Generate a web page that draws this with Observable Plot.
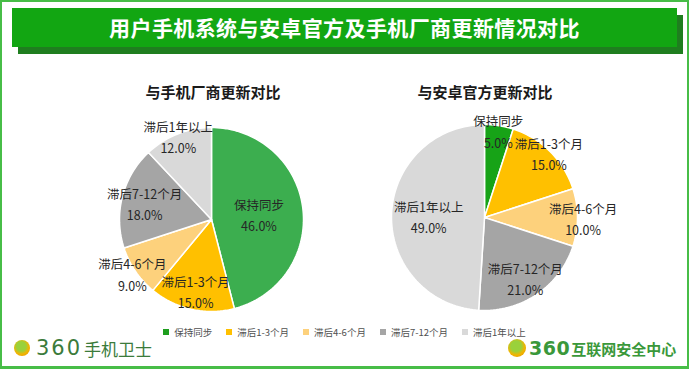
<!DOCTYPE html>
<html><head><meta charset="utf-8">
<script src="https://cdn.jsdelivr.net/npm/d3@7"></script>
<script src="https://cdn.jsdelivr.net/npm/@observablehq/plot@0.6"></script>
<style>
html,body{margin:0;padding:0;background:#fff;}
body{font-family:"Noto Sans CJK SC","Noto Sans",sans-serif;}
#page{position:relative;width:689px;height:369px;overflow:hidden;background:#fff;}
.abs{position:absolute;}
#frame{left:0;top:0;width:689px;height:369px;box-sizing:border-box;border:2px solid #47bd47;border-bottom-width:3px;pointer-events:none;z-index:5;}
#shadow{left:18px;top:15px;width:665px;height:39px;background:#1f7e1f;}
#banner{left:12px;top:8px;width:665px;height:39px;background:#12a612;color:#fff;font-weight:bold;font-size:21px;line-height:39px;text-align:center;letter-spacing:0.4px;}
.ptitle{top:80px;width:240px;text-align:center;font-weight:bold;font-size:15px;color:#1a1a1a;line-height:24px;}
#legend{left:0;top:324px;width:689px;display:flex;justify-content:center;font-size:9.5px;color:#505050;line-height:16px;z-index:3;}
#legend .it{display:flex;align-items:center;margin:0 7px;}
#legend .sw{width:6px;height:6px;margin-right:5px;}
.logo{display:flex;align-items:center;}
.ico{border-radius:50%;background:radial-gradient(circle at 45% 40%,#9ad13b 0 35%,#f2b400 60%,#d88f00 100%);}
</style></head>
<body>
<div id="page">
  <div id="shadow" class="abs"></div>
  <div id="banner" class="abs">用户手机系统与安卓官方及手机厂商更新情况对比</div>
  <div class="abs ptitle" style="left:93px">与手机厂商更新对比</div>
  <div class="abs ptitle" style="left:365px">与安卓官方更新对比</div>
  <div id="leftPie" class="abs"></div>
  <div id="rightPie" class="abs"></div>
  <div id="legend" class="abs"></div>
  <div class="abs logo" style="left:14px;top:337px;height:22px;">
    <div class="ico" style="width:16px;height:16px;"></div>
    <span style="margin-left:6px;font-size:21px;color:#3b7b3b;letter-spacing:2px;font-family:'DejaVu Sans';">360</span>
    <span style="margin-left:2px;font-size:17px;color:#3b7b3b;">手机卫士</span>
  </div>
  <div class="abs logo" style="left:508px;top:337px;height:22px;">
    <div class="ico" style="width:18px;height:18px;"></div>
    <span style="margin-left:3px;font-size:19px;color:#3a983a;font-weight:bold;letter-spacing:0.5px;font-family:'DejaVu Sans';">360</span>
    <span style="margin-left:1px;font-size:15px;color:#3a983a;font-weight:bold;">互联网安全中心</span>
  </div>
  <div id="frame" class="abs"></div>
</div>
<script>
// ---- data ----
const categories = ["保持同步", "滞后1-3个月", "滞后4-6个月", "滞后7-12个月", "滞后1年以上"];
const vendorValues = [46, 15, 9, 18, 12];     // 与手机厂商更新对比
const officialValues = [5, 15, 10, 21, 49];   // 与安卓官方更新对比

// ---- styles / layout ----
const vendorColors = ["#3cae4f", "#ffc000", "#fdd17c", "#a5a5a5", "#d9d9d9"];
const officialColors = ["#17a317", "#ffc000", "#fdd17c", "#a5a5a5", "#d9d9d9"];
const legendColors = ["#1e9e1e", "#ffc000", "#fdd17c", "#a5a5a5", "#d9d9d9"];
const vendorLabelRadius = [0.52, 0.79, 1.04, 0.75, 0.98];
const officialLabelRadius = [0.95, 0.98, 1.06, 0.78, 0.6];

function piePlot(values, colors, labelR, r, halfW, halfH) {
  const total = d3.sum(values);
  const polys = [], labels = [];
  let acc = 0;
  values.forEach((v, i) => {
    const a0 = acc / total * 2 * Math.PI, a1 = (acc + v) / total * 2 * Math.PI;
    const steps = Math.max(4, Math.ceil(v * 2));
    polys.push({cat: categories[i], x: 0, y: 0});
    for (let k = 0; k <= steps; k++) {
      const a = a0 + (a1 - a0) * k / steps;
      polys.push({cat: categories[i], x: Math.sin(a), y: Math.cos(a)});
    }
    polys.push({cat: categories[i], x: 0, y: 0});
    const m = (a0 + a1) / 2;
    labels.push({cat: categories[i], x: labelR[i] * Math.sin(m), y: labelR[i] * Math.cos(m),
      text: categories[i] + "\n" + v.toFixed(1) + "%"});
    acc += v;
  });
  return Plot.plot({
    width: 2 * halfW, height: 2 * halfH, margin: 0,
    x: {domain: [-halfW / r, halfW / r], axis: null},
    y: {domain: [-halfH / r, halfH / r], axis: null},
    color: {domain: categories, range: colors},
    style: {background: "transparent", fontFamily: "'Noto Sans CJK SC','Noto Sans',sans-serif", overflow: "visible"},
    marks: [
      Plot.line(polys, {x: "x", y: "y", z: "cat", fill: "cat", stroke: "white", strokeWidth: 1.5, strokeLinejoin: "round"}),
      Plot.text(labels, {x: "x", y: "y", text: "text", fontSize: 12.5, lineHeight: 1.7, fill: "#262626"})
    ]
  });
}

const L = document.getElementById("leftPie");
L.style.left = (211 - 130) + "px"; L.style.top = (219 - 118) + "px";
L.appendChild(piePlot(vendorValues, vendorColors, vendorLabelRadius, 92, 130, 118));

const R = document.getElementById("rightPie");
R.style.left = (484 - 140) + "px"; R.style.top = (217 - 118) + "px";
R.appendChild(piePlot(officialValues, officialColors, officialLabelRadius, 93, 140, 118));

const lg = document.getElementById("legend");
categories.forEach((c, i) => {
  const it = document.createElement("div"); it.className = "it";
  const sw = document.createElement("div"); sw.className = "sw"; sw.style.background = legendColors[i];
  const tx = document.createElement("span"); tx.textContent = c;
  it.appendChild(sw); it.appendChild(tx); lg.appendChild(it);
});
</script>
</body></html>
